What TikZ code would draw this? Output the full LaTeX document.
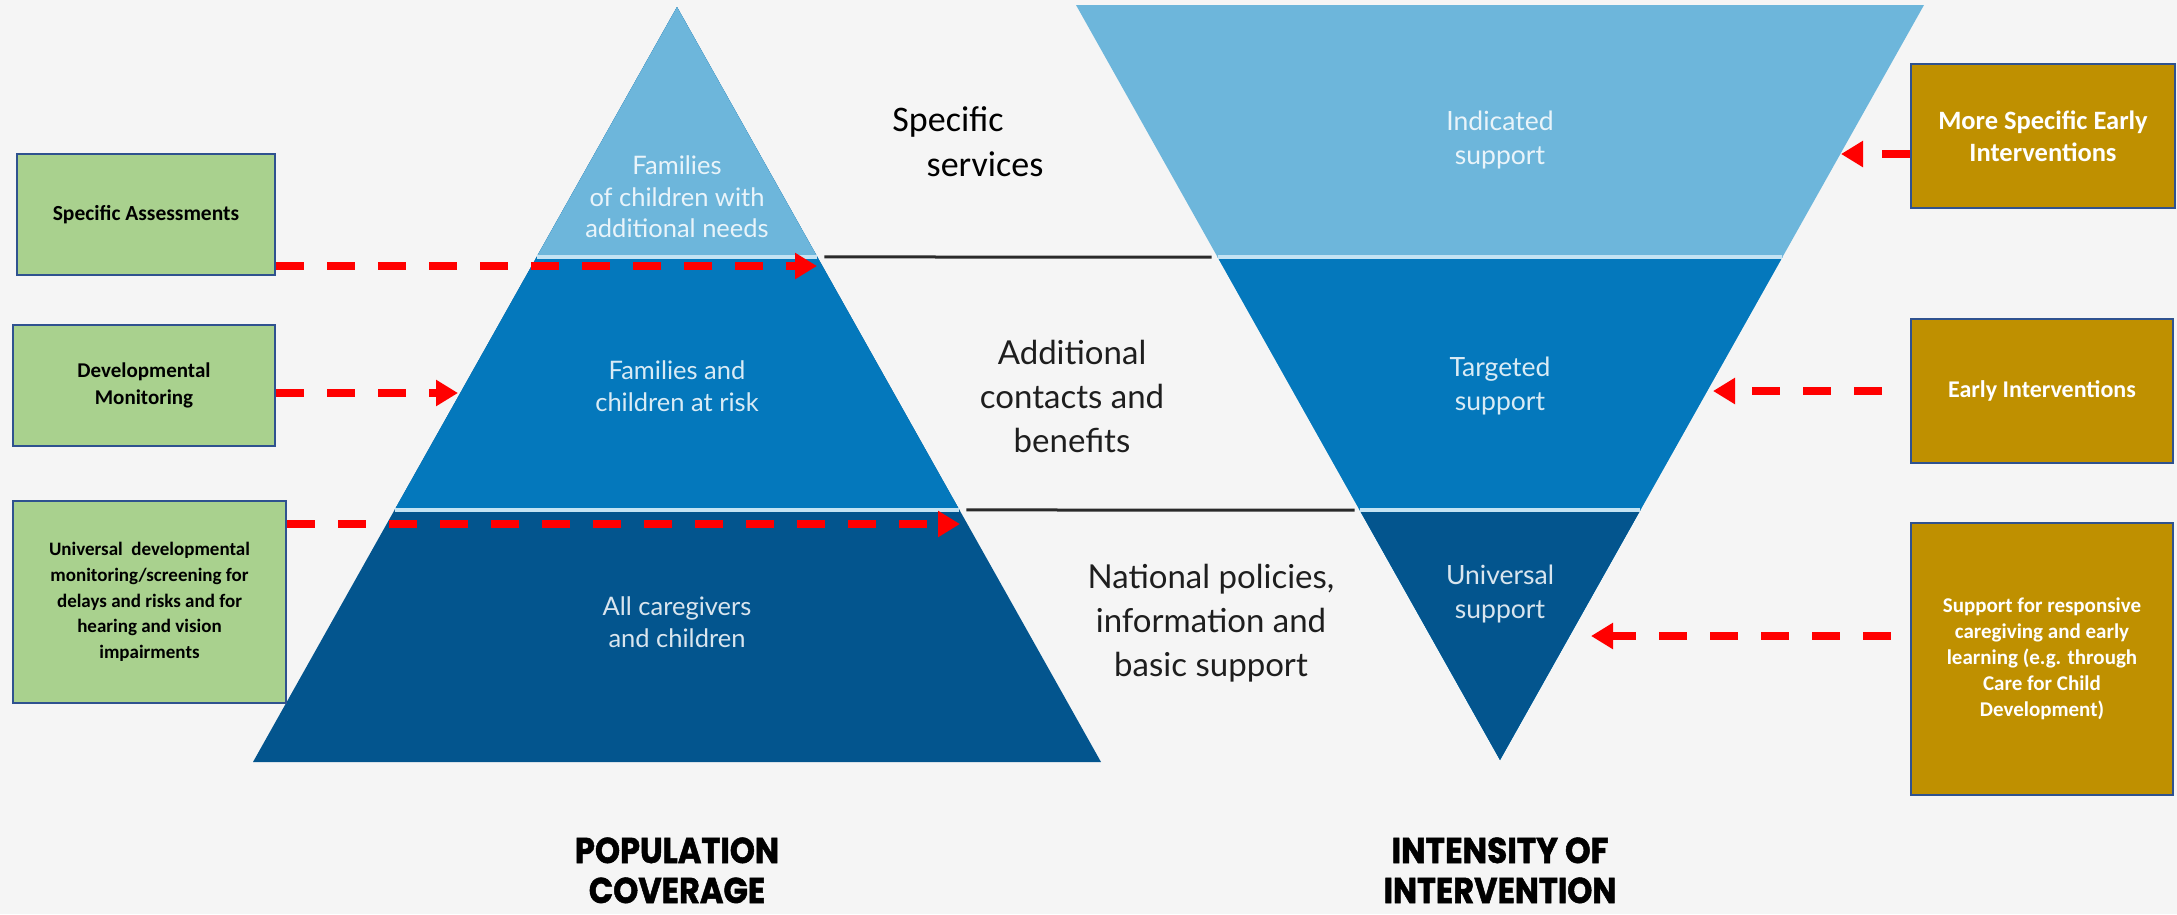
\documentclass[tikz,border=0pt]{standalone}
\usepackage{fontspec}
\usetikzlibrary{arrows.meta,calc}
\newfontfamily\boxfont{Carlito}
\newfontfamily\labfont{Lato}
\newfontfamily\titlefont{Poppins}[BoldFeatures={FakeBold=1.5}]
\definecolor{bg}{HTML}{F5F5F5}
\definecolor{lightband}{HTML}{6DB6DB}
\definecolor{midband}{HTML}{0478BC}
\definecolor{darkband}{HTML}{03558E}
\definecolor{paleline}{HTML}{C4E3F3}
\definecolor{greenfill}{HTML}{A9D18E}
\definecolor{goldfill}{HTML}{BF9000}
\definecolor{boxborder}{HTML}{2F528F}
\definecolor{sepline}{HTML}{2A2A2A}
\definecolor{midtext}{HTML}{1E1E1E}
\tikzset{
  gbox/.style={draw=boxborder, line width=2.5pt, fill=greenfill, inner sep=0pt, align=center,
    font=\boxfont\bfseries\fontsize{19}{25.7}\selectfont, text=black},
  obox/.style={draw=boxborder, line width=2.5pt, fill=goldfill, inner sep=0pt, align=center,
    font=\boxfont\bfseries\fontsize{21}{26}\selectfont, text=white},
  redarrow/.style={draw=red, line width=8pt, dash pattern=on 28pt off 23pt,
    -{Triangle[length=22pt,width=25pt]}},
  tlabel/.style={align=center, font=\labfont\fontsize{25.5}{31.5}\selectfont},
  ilabel/.style={align=center, font=\labfont\fontsize{26.5}{34}\selectfont},
  midlabel/.style={align=center, text=midtext, font=\labfont\fontsize{33}{44}\selectfont},
  title/.style={anchor=base, inner sep=0pt, text=black, font=\titlefont\bfseries\fontsize{32}{42}\selectfont},
  sep/.style={draw=sepline, line width=3pt},
  pale/.style={draw=paleline, line width=4pt}
}
\begin{document}
\begin{tikzpicture}[x=1pt,y=-1pt]
\useasboundingbox (0,0) rectangle (2177,914);
\fill[bg] (0,0) rectangle (2177,914);

% ---------- pyramid (population coverage) ----------
\coordinate (PA) at (677,7);
\coordinate (PL) at (253,762);
\coordinate (PR) at (1101,762);
\coordinate (PL1) at ($(PA)!0.3311!(PL)$);
\coordinate (PR1) at ($(PA)!0.3311!(PR)$);
\coordinate (PL2) at ($(PA)!0.6662!(PL)$);
\coordinate (PR2) at ($(PA)!0.6662!(PR)$);
\fill[darkband] (PA) -- (PL) -- (PR) -- cycle;
\fill[midband] (PA) -- (PL2) -- (PR2) -- cycle;
\fill[lightband] (PA) -- (PL1) -- (PR1) -- cycle;
\draw[pale] (PL1) -- (PR1);
\draw[pale] (PL2) -- (PR2);

% ---------- inverted triangle (intensity of intervention) ----------
\coordinate (IA) at (1500,760);
\coordinate (IL) at (1076,5);
\coordinate (IR) at (1924,5);
\coordinate (IL1) at ($(IA)!0.6662!(IL)$);
\coordinate (IR1) at ($(IA)!0.6662!(IR)$);
\coordinate (IL2) at ($(IA)!0.3311!(IL)$);
\coordinate (IR2) at ($(IA)!0.3311!(IR)$);
\fill[lightband] (IA) -- (IL) -- (IR) -- cycle;
\fill[midband] (IA) -- (IL1) -- (IR1) -- cycle;
\fill[darkband] (IA) -- (IL2) -- (IR2) -- cycle;
\draw[pale] (IL1) -- (IR1);
\draw[pale] (IL2) -- (IR2);

% ---------- separator lines ----------
\draw[sep] ([xshift=7pt]PR1) -- ([xshift=-6pt]IL1);
\draw[sep] ([xshift=7pt]PR2) -- ([xshift=-5pt]IL2);

% ---------- labels in triangles ----------
\node[tlabel, text=white!85!lightband] (l1) at (677,197) {Families\\of children with\\additional needs};
\node[tlabel, text=white!85!midband] (l2) at (677,386) {Families and\\children at risk};
\node[tlabel, text=white!85!darkband] (l3) at (677,622) {All caregivers\\and children};
\node[ilabel, text=white!85!lightband] (r1) at (1500,140) {Indicated\\support};
\node[ilabel, text=white!85!midband] (r2) at (1500,386) {Targeted\\support};
\node[ilabel, text=white!85!darkband] (r3) at (1500,594) {Universal\\support};

% ---------- middle texts ----------
\node[text=black, font=\boxfont\fontsize{36}{42}\selectfont] (sp1) at (948,122) {Specific};
\node[text=black, font=\boxfont\fontsize{36}{42}\selectfont] (sp2) at (985,164) {services};
\node[midlabel] (m2) at (1072,396) {Additional\\contacts and\\benefits};
\node[midlabel] (m3) at (1211,623) {National policies,\\information and\\basic support};

% ---------- titles ----------
\node[title] (t1a) at (677,863) {\scalebox{1}[1.12]{POPULATION}};
\node[title] (t1b) at (677,903) {\scalebox{1}[1.12]{COVERAGE}};
\node[title] (t2a) at (1500,863) {\scalebox{1.02}[1.12]{INTENSITY OF}};
\node[title] (t2b) at (1500,903) {\scalebox{1}[1.12]{INTERVENTION}};

% ---------- green boxes ----------
\node[gbox, minimum width=258pt, minimum height=121pt, font=\boxfont\bfseries\fontsize{21.5}{27}\selectfont] (sa) at (146,214.5) {Specific Assessments};
\node[gbox, minimum width=262pt, minimum height=121pt, font=\boxfont\bfseries\fontsize{21}{27}\selectfont] (dm) at (144,385.5) {Developmental\\Monitoring};
\node[gbox, minimum width=273pt, minimum height=202pt] (uv) at (149.5,602) {Universal\ \ developmental\\monitoring/screening for\\delays and risks and for\\hearing and vision\\impairments};

% ---------- gold boxes ----------
\node[obox, minimum width=264pt, minimum height=144pt, font=\boxfont\bfseries\fontsize{26.5}{32}\selectfont] (ms) at (2043,136) {More Specific Early\\Interventions};
\node[obox, minimum width=262pt, minimum height=144pt, font=\boxfont\bfseries\fontsize{24}{28}\selectfont] (ei) at (2042,391) {Early Interventions};
\node[obox, minimum width=262pt, minimum height=272pt] (sr) at (2042,659) {Support for responsive\\caregiving and early\\learning (e.g. through\\Care for Child\\Development)};

% ---------- arrow targets ----------
\coordinate (ta) at (817,266);
\coordinate (td) at (458,393);
\coordinate (tu) at (960,524);
\coordinate (tm) at (1841,154);
\coordinate (te) at (1713,391);
\coordinate (ts) at (1591,636);

% ---------- arrows ----------
\draw[redarrow] (sa.east |- ta) -- (ta);
\draw[redarrow] (dm.east |- td) -- (td);
\draw[redarrow] (uv.east |- tu) -- (tu);
\draw[redarrow] (ms.west |- tm) -- (tm);
\draw[redarrow, shorten <=28pt] (ei.west |- te) -- (te);
\draw[redarrow, shorten <=19pt] (sr.west |- ts) -- (ts);
\end{tikzpicture}
\end{document}
